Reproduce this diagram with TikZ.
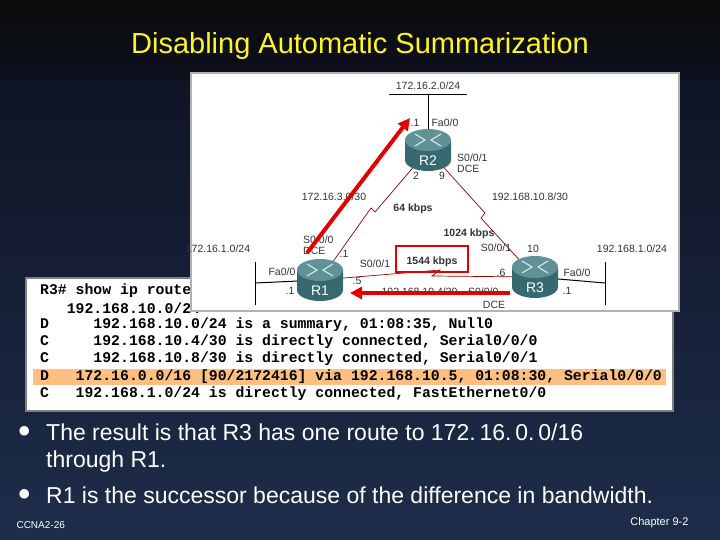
\documentclass[tikz,border=0pt]{standalone}
\usepackage{fontspec}
\setmainfont{Liberation Sans}
\newfontfamily\monofnt{Liberation Mono}
\usetikzlibrary{arrows.meta}
\definecolor{navytop}{RGB}{12,16,30}
\definecolor{navybot}{RGB}{30,45,75}
\definecolor{rtop}{RGB}{95,145,150}
\definecolor{rbody}{RGB}{55,105,112}
\begin{document}
\begin{tikzpicture}[x=1pt,y=-1pt,
  lbl/.style={font=\fontsize{10.5}{11}\selectfont,inner sep=0pt,text=black!80},
  term/.style={font=\monofnt\bfseries\fontsize{14.8}{15}\selectfont,inner sep=0pt,anchor=west},
  redarrow/.style={red!90!black,line width=4pt,-{Triangle[length=12pt,width=12pt]}},
  link/.style={red!60!black,line width=0.7pt},
  lan/.style={black,line width=1pt},
  rname/.style={font=\fontsize{14}{15}\selectfont,text=white,inner sep=0pt},
  bullet/.style={font=\fontsize{23}{26}\selectfont,text=white,inner sep=0pt,anchor=west,align=left}]
\useasboundingbox (0,0) rectangle (720,540);
\shade[top color=navytop, bottom color=navybot] (0,0) rectangle (720,540);
\shade[top color=black!95, bottom color=navytop] (0,0) rectangle (720,80);
\node[font=\fontsize{29}{32}\selectfont,text=yellow!85!white] (title) at (360,46) {Disabling Automatic Summarization};
% terminal
\node[draw=gray,line width=2pt,fill=white,minimum width=647,minimum height=133,anchor=north west,inner sep=0] (termbox) at (25,277) {};
\fill[orange!50] (33,369) rectangle (666,385);
\node[term] (t1) at (40,291) {R3\# show ip route};
\node[term] (t2) at (40,308) {\ \ \ 192.168.10.0/24};
\node[term] (t3) at (40,325) {D\ \ \ \ \ 192.168.10.0/24 is a summary, 01:08:35, Null0};
\node[term] (t4) at (40,342) {C\ \ \ \ \ 192.168.10.4/30 is directly connected, Serial0/0/0};
\node[term] (t5) at (40,359) {C\ \ \ \ \ 192.168.10.8/30 is directly connected, Serial0/0/1};
\node[term] (t6) at (40,377) {D\ \ \ 172.16.0.0/16 [90/2172416] via 192.168.10.5, 01:08:30, Serial0/0/0};
\node[term] (t7) at (40,394) {C\ \ \ 192.168.1.0/24 is directly connected, FastEthernet0/0};
% diagram box
\node[draw=gray!60,line width=2pt,fill=white,minimum width=488,minimum height=238,anchor=north west,inner sep=0] (dbox) at (190,72) {};
% LANs
\coordinate (lan2a) at (389,95); \coordinate (lan2b) at (467,95);
\draw[lan] (lan2a) -- (lan2b);
\coordinate (lan2c) at (428,95);
\coordinate (lan1a) at (255,262); \coordinate (lan1b) at (255,305);
\draw[lan] (lan1a) -- (lan1b);
\coordinate (lan3a) at (605,262); \coordinate (lan3b) at (605,305);
\draw[lan] (lan3a) -- (lan3b);
\coordinate (lan1c) at (255,283);
\coordinate (lan3c) at (605,283);
% routers positions
\coordinate (R2) at (428,150);
\coordinate (R1) at (320,280);
\coordinate (R3) at (535,277);
\draw[lan] (lan2c) -- (R2);
\draw[lan] (lan1c) -- (R1);
\draw[lan] (R3) -- (lan3c);
\draw[link] (R1) -- (371,208) -- (375,212) -- (R2);
\draw[link] (R2) -- (485,213) -- (481,218) -- (R3);
\draw[link] (R1) -- (440,270) -- (432,276) -- (R3);
\foreach \p/\nm in {R2/R2,R1/R1,R3/R3}{
  \begin{scope}[shift={(\p)}]
    \fill[rbody] (-23,-10) -- (-23,10) arc[start angle=180,end angle=0,x radius=23,y radius=11] -- (23,-10) -- cycle;
    \fill[rtop] (0,-10) ellipse[x radius=23,y radius=11];
    \draw[white!85!teal,line width=1.1pt] (-13,-16)--(-3,-10)--(-13,-4) (13,-16)--(3,-10)--(13,-4);
    \node[rname] at (0,11) {\nm};
  \end{scope}}
% labels
\node[lbl] (a1) at (428,86) {172.16.2.0/24};
\node[lbl] (a2) at (415,123) {.1};
\node[lbl] (a3) at (445,123) {Fa0/0};
\node[lbl,align=left,anchor=west] (a4) at (457,163) {S0/0/1\\DCE};
\node[lbl] (a5) at (416,176) {2};
\node[lbl] (a6) at (442,176) {9};
\node[lbl] (a7) at (334,197) {172.16.3.0/30};
\node[lbl,font=\bfseries\fontsize{10.5}{11}\selectfont] (a8) at (413,209) {64 kbps};
\node[lbl] (a9) at (530,197) {192.168.10.8/30};
\node[lbl,font=\bfseries\fontsize{10.5}{11}\selectfont] (a10) at (469,234) {1024 kbps};
\node[lbl,align=left,anchor=west] (a11) at (303,245) {S0/0/0\\DCE};
\node[lbl] (a12) at (218,249) {172.16.1.0/24};
\node[lbl] (a13) at (632,249) {192.168.1.0/24};
\node[lbl] (a14) at (344,254) {.1};
\node[lbl] (a15) at (496,248) {S0/0/1};
\node[lbl] (a16) at (533,249) {10};
\node[lbl] (a17) at (375,264) {S0/0/1};
\node[lbl] (a18) at (282,272) {Fa0/0};
\node[lbl] (a19) at (357,281) {.5};
\node[lbl] (a20) at (501,273) {.6};
\node[lbl] (a21) at (577,273) {Fa0/0};
\node[lbl] (a22) at (290,291) {.1};
\node[lbl] (a23) at (567,291) {.1};
\node[lbl] (a24) at (440,292) {192.168.10.4/30\quad S0/0/0};
\node[lbl] (a25) at (494,305) {DCE};
\node[lbl,font=\bfseries\fontsize{10.5}{11}\selectfont] (a26) at (432,262) {1544 kbps};
\draw[red!90!black,line width=2.5pt] (396,246) rectangle (468,272);
% red arrows
\coordinate (ar1s) at (307,253); \coordinate (ar1e) at (410,118);
\draw[redarrow] (ar1s) -- (ar1e);
\coordinate (ar2s) at (510,293); \coordinate (ar2e) at (350,293);
\draw[redarrow] (ar2s) -- (ar2e);
% bullets
\node[bullet] (b1) at (18,432) {$\bullet$};
\node[bullet] (b1t) at (46,432) {The result is that R3 has one route to 172.\,16.\,0.\,0/16};
\node[bullet] (b1u) at (46,462) {through R1.};
\node[bullet] (b2) at (18,495) {$\bullet$};
\node[bullet] (b2t) at (46,495) {R1 is the successor because of the difference in bandwidth.};
\node[font=\fontsize{10}{12}\selectfont,text=white!85,anchor=west] (f1) at (13,525) {CCNA2-26};
\node[font=\fontsize{11}{12}\selectfont,text=white!85,anchor=east] (f2) at (692,523) {Chapter 9-2};
\end{tikzpicture}
\end{document}
